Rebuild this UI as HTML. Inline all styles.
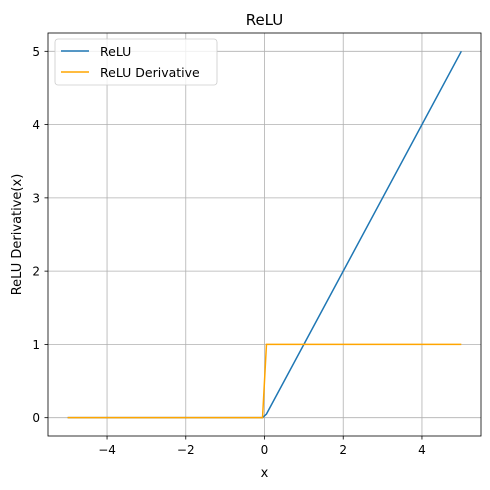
<!DOCTYPE html>
<html><head><meta charset="utf-8"><style>
body{margin:0;background:#fff;}
svg{display:block;font-family:"DejaVu Sans","Liberation Sans",sans-serif;}
</style></head><body>
<svg id="chart" width="490" height="490"></svg>
<script>
const xs = [-5, -0.05, 0.05, 5];
const reluVals = [0, 0, 0.05, 5];
const derivVals = [0, 0, 1, 1];
const xTicks = [-4, -2, 0, 2, 4];
const yTicks = [0, 1, 2, 3, 4, 5];
const L=48,R=481,T=33,B=436;
const xmin=-5.5,xmax=5.5,ymin=-0.25,ymax=5.25;
const sx=v=>L+(v-xmin)/(xmax-xmin)*(R-L);
const sy=v=>B-(v-ymin)/(ymax-ymin)*(B-T);
const svg=document.getElementById('chart');
const NS='http://www.w3.org/2000/svg';
function mk(tag,attrs,parent){const e=document.createElementNS(NS,tag);for(const k in attrs)e.setAttribute(k,attrs[k]);(parent||svg).appendChild(e);return e;}
const grid=mk('g',{});


xTicks.forEach(t=>{
  const l=mk('line',{x1:sx(t),x2:sx(t),y1:T,y2:B,stroke:'#b0b0b0','stroke-width':0.8},grid);
  
  
  const tk=mk('line',{x1:sx(t),x2:sx(t),y1:B,y2:B+3.5,stroke:'#000','stroke-width':0.8});
  
  
  const tx=mk('text',{x:sx(t),y:B+18,'text-anchor':'middle','font-size':12});
  tx.textContent=(t<0?'\u2212'+(-t):t);
  
  
});
yTicks.forEach(t=>{
  const l=mk('line',{x1:L,x2:R,y1:sy(t),y2:sy(t),stroke:'#b0b0b0','stroke-width':0.8},grid);
  
  
  const tk=mk('line',{x1:L-3.5,x2:L,y1:sy(t),y2:sy(t),stroke:'#000','stroke-width':0.8});
  
  
  const tx=mk('text',{x:L-8,y:sy(t)+4.5,'text-anchor':'end','font-size':12});
  tx.textContent=t;
  
  
});
function line(vals,color,name){
  const p=mk('polyline',{points:xs.map((x,i)=>sx(x)+','+sy(vals[i])).join(' '),fill:'none',stroke:color,'stroke-width':1.5});
  
  
}
line(reluVals,'#1f77b4','relu-line');
line(derivVals,'#ffa500','relu-derivative-line');
const fr=mk('rect',{x:L,y:T,width:R-L,height:B-T,fill:'none',stroke:'#000','stroke-width':0.8});


const ti=mk('text',{x:(L+R)/2,y:T-8,'text-anchor':'middle','font-size':15});
ti.textContent='ReLU';


const xl=mk('text',{x:(L+R)/2,y:477,'text-anchor':'middle','font-size':13});
xl.textContent='x';


const yl=mk('text',{x:21,y:(T+B)/2,'text-anchor':'middle','font-size':13,transform:'rotate(-90 21 '+((T+B)/2)+')'});
yl.textContent='ReLU Derivative(x)';


const lg=mk('g',{});


mk('rect',{x:55,y:39,width:162,height:46,rx:3,fill:'#fff','fill-opacity':0.8,stroke:'#ccc','stroke-width':0.8},lg);
[['ReLU','#1f77b4',56],['ReLU Derivative','#ffa500',77]].forEach(([n,c,y])=>{
  const e=mk('g',{},lg);
  
  
  mk('line',{x1:61,x2:89,y1:y-5,y2:y-5,stroke:c,'stroke-width':1.5},e);
  const t=mk('text',{x:100,y:y,'font-size':12.5},e);t.textContent=n;
});
</script>
</body></html>
